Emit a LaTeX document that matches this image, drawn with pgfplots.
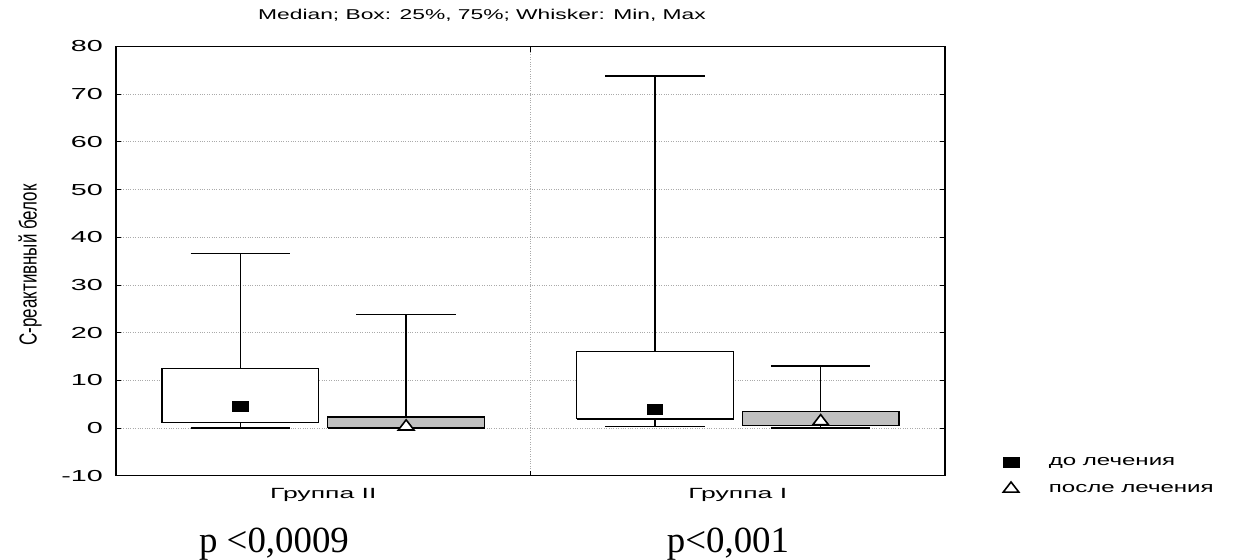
\documentclass[border=0pt]{standalone}
\usepackage{fontspec}
\setmainfont{Liberation Sans}
\newfontfamily\serifp{Liberation Serif}
\usepackage{graphicx}
\usepackage{pgfplots}
\pgfplotsset{compat=1.18}
\definecolor{boxgray}{RGB}{192,192,192}
\definecolor{gridgray}{RGB}{170,170,170}
\newcommand{\sx}[2]{\scalebox{#1}[1]{#2}}
\newcommand{\yf}{\fontsize{16}{19}\selectfont}
\newcommand{\xf}{\fontsize{14.8}{18}\selectfont}
\newcommand{\lf}{\fontsize{15.1}{18}\selectfont}
\newcommand{\tf}{\fontsize{14.3}{17}\selectfont}
\begin{document}
\begin{tikzpicture}
\useasboundingbox (0bp,0bp) rectangle (1236bp,560bp);
\begin{axis}[
  at={(116bp,84.3bp)}, anchor=south west,
  scale only axis, width=829bp, height=429.2bp,
  xmin=-0.5, xmax=1.5, ymin=-10, ymax=80,
  axis line style={black, line width=1.2bp},
  tick align=inside, major tick length=5bp,
  tick style={black, line width=0.8bp},
  ytick={-10,0,10,20,30,40,50,60,70,80},
  yticklabels={\sx{1.8}{-10},\sx{1.8}{0},\sx{1.8}{10},\sx{1.8}{20},\sx{1.8}{30},
               \sx{1.8}{40},\sx{1.8}{50},\sx{1.8}{60},\sx{1.8}{70},\sx{1.8}{80}},
  yticklabel style={font=\yf, anchor=east, inner sep=0pt, xshift=-13bp},
  ymajorgrids, xmajorgrids,
  grid style={gridgray, dotted, line width=0.8bp},
  xtick={0.5}, xticklabels={},
  extra x ticks={0,1},
  extra x tick labels={\sx{1.8}{Группа II},\sx{1.8}{Группа I}},
  extra x tick style={major tick length=0pt, xmajorgrids=false,
     xticklabel style={font=\xf, anchor=north, inner sep=0pt, yshift=-12bp}},
  legend style={draw=none, fill=none, inner sep=0pt, at={(1.070,0.0)}, anchor=west,
     font=\lf, row sep=12.5bp, /tikz/every odd column/.append style={column sep=28bp}},
  legend cell align=left,
]
% ---- whiskers (min to max) ----
\addplot[forget plot, black, line width=1.5bp] coordinates {(-0.2,0) (-0.2,36.6)};
\addplot[forget plot, black, line width=1.5bp] coordinates {(-0.32,36.6) (-0.08,36.6)};
\addplot[forget plot, black, line width=1.5bp] coordinates {(-0.32,0) (-0.08,0)};
\addplot[forget plot, black, line width=1.5bp] coordinates {(0.2,0) (0.2,23.8)};
\addplot[forget plot, black, line width=1.5bp] coordinates {(0.08,23.8) (0.32,23.8)};
\addplot[forget plot, black, line width=1.5bp] coordinates {(0.08,0) (0.32,0)};
\addplot[forget plot, black, line width=1.5bp] coordinates {(0.8,0.3) (0.8,73.8)};
\addplot[forget plot, black, line width=1.5bp] coordinates {(0.68,73.8) (0.92,73.8)};
\addplot[forget plot, black, line width=1.5bp] coordinates {(0.68,0.3) (0.92,0.3)};
\addplot[forget plot, black, line width=1.5bp] coordinates {(1.2,0) (1.2,13.0)};
\addplot[forget plot, black, line width=1.5bp] coordinates {(1.08,13.0) (1.32,13.0)};
\addplot[forget plot, black, line width=1.5bp] coordinates {(1.08,0) (1.32,0)};
% ---- boxes (25%..75%) ----
\addplot[forget plot, draw=black, fill=white, line width=1.2bp]
  coordinates {(-0.389,1.1) (-0.011,1.1) (-0.011,12.4) (-0.389,12.4) (-0.389,1.1)};
\addplot[forget plot, draw=black, fill=boxgray, line width=1.2bp]
  coordinates {(0.011,0) (0.389,0) (0.389,2.3) (0.011,2.3) (0.011,0)};
\addplot[forget plot, draw=black, fill=white, line width=1.2bp]
  coordinates {(0.611,1.9) (0.989,1.9) (0.989,16.1) (0.611,16.1) (0.611,1.9)};
\addplot[forget plot, draw=black, fill=boxgray, line width=1.2bp]
  coordinates {(1.011,0.55) (1.389,0.55) (1.389,3.4) (1.011,3.4) (1.011,0.55)};
% ---- medians ----
\addplot[only marks, mark=square*, mark size=7.8bp,
  mark options={yscale=0.65, fill=black, draw=black, line width=0.5bp}]
  coordinates {(-0.2,4.5) (0.8,3.85)};
\addlegendentry{\sx{1.6}{до лечения}}
\addplot[only marks, mark=triangle*, mark size=9bp,
  mark options={yscale=0.75, fill=white, draw=black, line width=1.6bp}]
  coordinates {(0.2,0.3) (1.2,1.4)};
\addlegendentry{\sx{1.6}{после лечения}}
\end{axis}
\node[font=\tf, anchor=center] at (482bp,545bp)
  {\sx{1.6}{Median; Box: 25\%, 75\%; Whisker: Min, Max}};
\node[rotate=90, anchor=center, font=\fontsize{17}{20}\selectfont] at (30bp,295bp)
  {\scalebox{1}[1.45]{С-реактивный белок}};
\node[font=\serifp\fontsize{37}{40}\selectfont, anchor=base] at (274bp,8bp) {p <0,0009};
\node[font=\serifp\fontsize{37}{40}\selectfont, anchor=base] at (728bp,8bp) {p<0,001};
\end{tikzpicture}
\end{document}
